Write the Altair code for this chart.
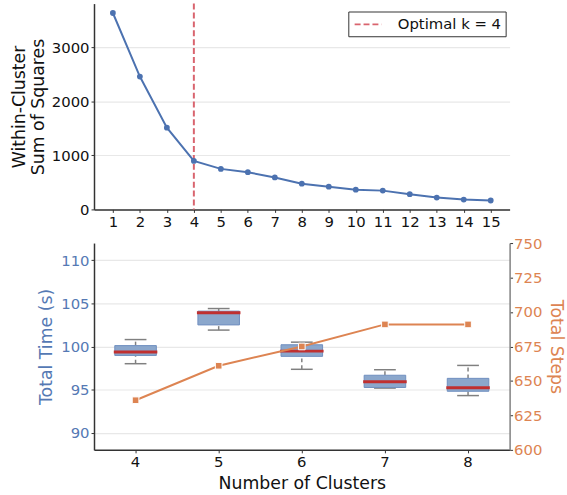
import altair as alt
import pandas as pd

# ---------------- data ----------------
k_values = list(range(1, 16))
wcss = [3636, 2459, 1513, 897, 750, 689, 592, 476, 421, 366, 348, 281, 220, 183, 165]
optimal_k = [4]
optimal_label = ["Optimal k = 4"]

clusters = [4, 5, 6, 7, 8]
time_min = [98.0, 101.9, 97.35, 95.17, 94.3]
time_q1 = [98.96, 102.5, 98.85, 95.24, 94.8]
time_med = [99.35, 103.9, 99.46, 95.9, 95.2]
time_q3 = [100.1, 104.1, 100.2, 96.66, 96.3]
time_max = [100.8, 104.4, 100.5, 97.3, 97.8]
total_steps = [636, 661, 675, 691, 691]

wcss_ticks = [0, 1000, 2000, 3000]
time_ticks = [90, 95, 100, 105, 110]
steps_ticks = [600, 625, 650, 675, 700, 725, 750]

BLUE = "#4c72b0"
BLUE_TXT = "#5579b4"
ORANGE = "#dd8452"
RED = "#d9646e"
MED = "#c03030"
GRID = "#e8e8e8"
AX = "#333333"
FONT = "DejaVu Sans"

top_df = pd.DataFrame({"k": k_values, "wcss": wcss})
opt_df = pd.DataFrame({"k": optimal_k, "label": optimal_label})
box_df = pd.DataFrame({
    "k": clusters, "lo": time_min, "q1": time_q1, "med": time_med,
    "q3": time_q3, "hi": time_max, "steps": total_steps,
})

# ---------------- top: elbow plot ----------------
x_top = alt.X("k:Q", scale=alt.Scale(domain=[0.3, 15.7], nice=False),
              axis=alt.Axis(values=k_values, title=None, grid=False, ticks=True,
                            tickSize=3, tickColor=AX, labelOverlap=False, labelFlush=False,
                            labelPadding=2, domainColor=AX, domainWidth=1.5,
                            labelFontSize=15, labelColor="#111"))
y_top = alt.Y("wcss:Q", scale=alt.Scale(domain=[0, 3810], nice=False),
              axis=alt.Axis(values=wcss_ticks, format="d",
                            title=["Within-Cluster", "Sum of Squares"],
                            titleFontSize=17.5, titleFontWeight="normal", titleColor="#111",
                            titlePadding=4, titleLineHeight=19,
                            labelFontSize=15, labelColor="#111", labelPadding=2,
                            labelOverlap=False, ticks=True, tickSize=3, tickColor=AX,
                            grid=True, gridColor=GRID, gridWidth=1.2,
                            domainColor=AX, domainWidth=1.5))

elbow_line = alt.Chart(top_df).mark_line(color=BLUE, strokeWidth=2).encode(x=x_top, y=y_top)
elbow_pts = alt.Chart(top_df).mark_circle(color=BLUE, size=34, opacity=1).encode(x=x_top, y=y_top)
opt_rule = alt.Chart(opt_df).mark_rule(strokeDash=[6, 3], strokeWidth=2).encode(
    x=x_top,
    color=alt.Color("label:N", scale=alt.Scale(range=[RED]),
                    legend=alt.Legend(title=None, orient="none", legendX=257, legendY=8,
                                      symbolType="M-1.7,0H1.7", symbolStrokeWidth=2,
                                      symbolDash=[6, 3], symbolSize=256,
                                      symbolOffset=7, labelOffset=21,
                                      labelFontSize=15, labelColor="#111",
                                      strokeColor=AX, fillColor="white",
                                      padding=4, cornerRadius=0)),
)
top = alt.layer(opt_rule, elbow_line, elbow_pts).properties(width=420, height=208)

# ---------------- bottom: boxplot + steps ----------------
x_bot = alt.X("k:O", scale=alt.Scale(paddingInner=0, paddingOuter=0),
              axis=alt.Axis(title="Number of Clusters", labelAngle=0, ticks=True,
                            tickSize=3, tickColor=AX,
                            labelPadding=2, titlePadding=5, labelFontSize=15,
                            titleFontSize=17.5, titleFontWeight="normal",
                            labelColor="#111", titleColor="#111",
                            domainColor=AX, domainWidth=1.5))
y_axis_time = alt.Axis(values=time_ticks, title="Total Time (s)",
                       titleFontSize=17.5, titleFontWeight="normal", titleColor=BLUE_TXT,
                       titlePadding=5, labelFontSize=15, labelColor=BLUE_TXT,
                       labelPadding=2, labelOverlap=False, ticks=True, tickSize=3,
                       tickColor=AX, grid=True, gridColor=GRID,
                       gridWidth=1.2, domainColor=AX, domainWidth=1.5)
y_scale_time = alt.Scale(domain=[88, 112], nice=False, zero=False)

whisk_lo = alt.Chart(box_df).mark_rule(color="#808080", strokeWidth=1.5, strokeDash=[4, 3]).encode(
    x=x_bot, y=alt.Y("lo:Q", scale=y_scale_time, axis=y_axis_time), y2="q1:Q")
whisk_hi = alt.Chart(box_df).mark_rule(color="#808080", strokeWidth=1.5, strokeDash=[4, 3]).encode(
    x=x_bot, y=alt.Y("q3:Q", title="Total Time (s)"), y2="hi:Q")
cap_lo = alt.Chart(box_df).mark_tick(color="#808080", size=22, thickness=1.5, opacity=1).encode(
    x=x_bot, y=alt.Y("lo:Q", title="Total Time (s)"))
cap_hi = alt.Chart(box_df).mark_tick(color="#808080", size=22, thickness=1.5, opacity=1).encode(
    x=x_bot, y=alt.Y("hi:Q", title="Total Time (s)"))
boxes = alt.Chart(box_df).mark_bar(size=42, fill="#8ba7cc", stroke="#6f8fbf", strokeWidth=1).encode(
    x=x_bot, y=alt.Y("q1:Q", title="Total Time (s)"), y2="q3:Q")
medians = alt.Chart(box_df).mark_tick(color=MED, size=44, thickness=3, opacity=1).encode(
    x=x_bot, y=alt.Y("med:Q", title="Total Time (s)"))

left = alt.layer(whisk_lo, whisk_hi, cap_lo, cap_hi, boxes, medians)

steps_y = alt.Y("steps:Q", scale=alt.Scale(domain=[600, 750], nice=False, zero=False),
                axis=alt.Axis(orient="right", values=steps_ticks, labelOverlap=False,
                              title="Total Steps", titleFontSize=17.5, titleFontWeight="normal",
                              titleColor=ORANGE, titlePadding=5, labelFontSize=15,
                              labelColor=ORANGE, labelPadding=1, ticks=True, tickSize=3,
                              tickColor=AX, grid=False,
                              domainColor="#808080", domainWidth=1.5))
steps_line = alt.Chart(box_df).mark_line(color=ORANGE, strokeWidth=2).encode(x=x_bot, y=steps_y)
steps_pts = alt.Chart(box_df).mark_square(color=ORANGE, size=45, opacity=1, stroke="white",
                                          strokeWidth=1).encode(x=x_bot, y=steps_y)
right = alt.layer(steps_line, steps_pts)

bottom = alt.layer(left, right).resolve_scale(y="independent").properties(width=420, height=209)

chart = alt.vconcat(top, bottom, spacing=7).properties(
    padding={"left": 10, "top": 0, "right": 2, "bottom": 2}
).configure(font=FONT).configure_view(stroke=None).configure_axis(labelOverlap=False)

chart.save("out.html", embed_options={"renderer": "svg", "actions": False})
